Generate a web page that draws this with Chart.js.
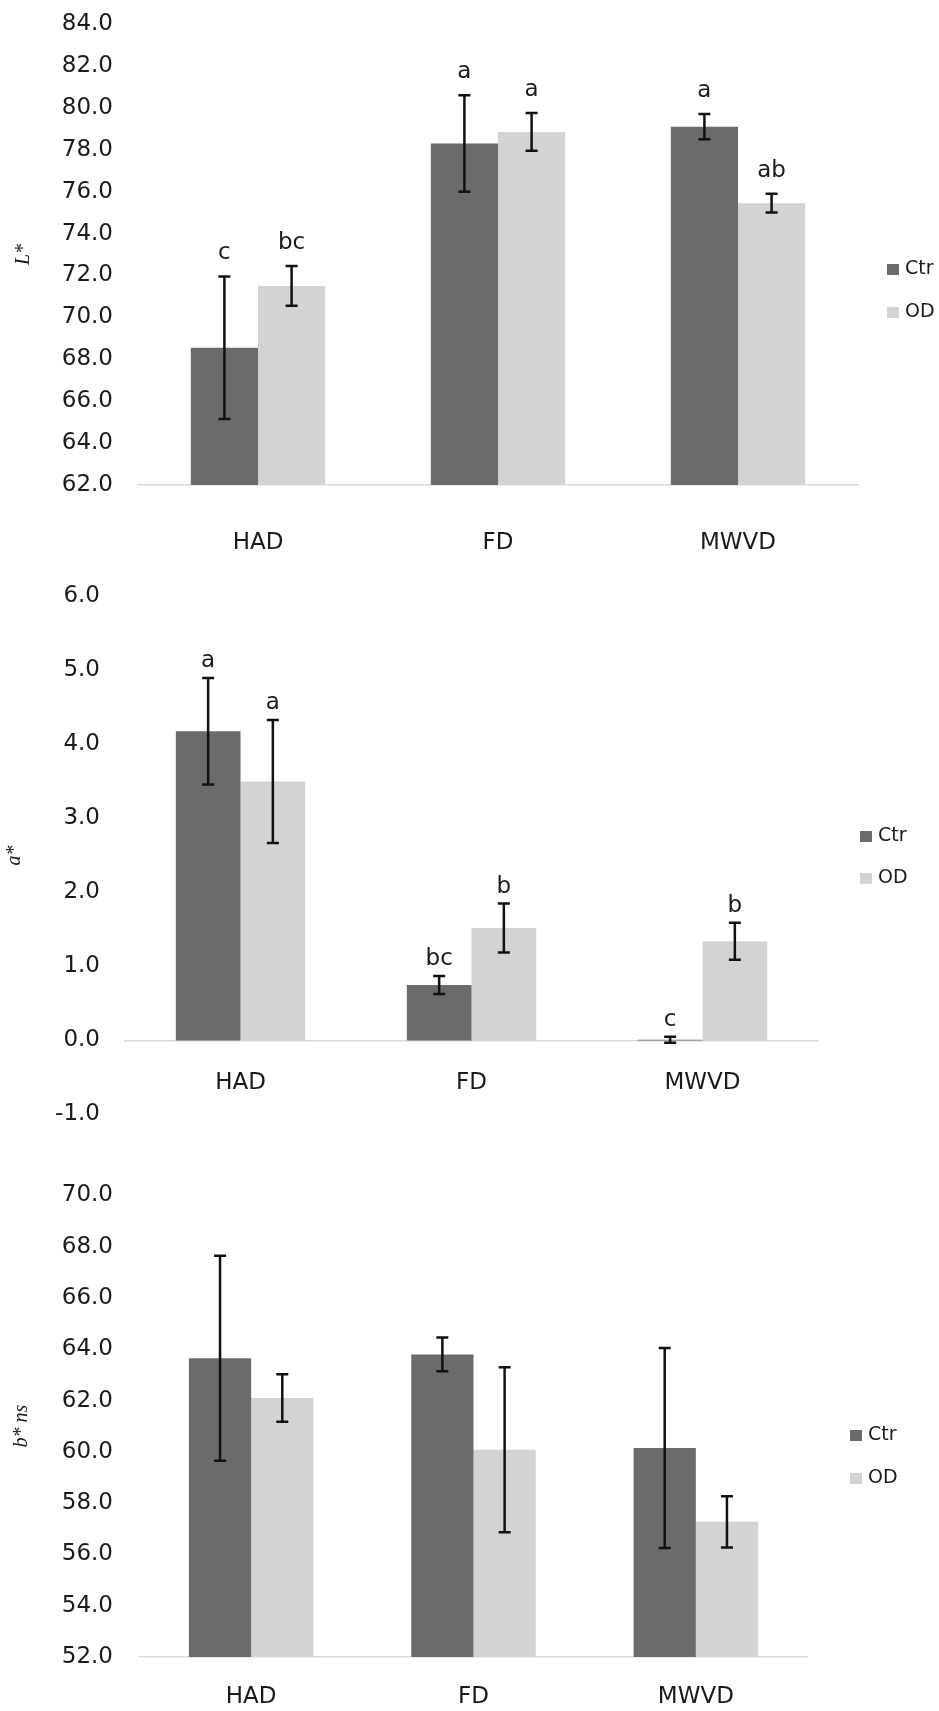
<!DOCTYPE html>
<html>
<head>
<meta charset="utf-8">
<script src="https://cdn.jsdelivr.net/npm/chart.js@4.4.1/dist/chart.umd.min.js"></script>
<style>
    body { margin: 0; background: #fff; width: 939px; height: 1711px; position: relative; overflow: hidden; font-family: 'DejaVu Sans', sans-serif; }
    canvas { position: absolute; left: 0; }
    .item-legenda { position: absolute; font-size: 19px; line-height: 20px; color: #1a1a1a; white-space: nowrap; }
    .item-legenda span { display: inline-block; width: 12px; height: 11px; margin-right: 6px; vertical-align: -1px; }
</style>
</head>
<body>
<canvas id="graficoL" width="939" height="570" style="top:0px"></canvas>
<canvas id="graficoA" width="939" height="550" style="top:570px"></canvas>
<canvas id="graficoB" width="939" height="591" style="top:1120px"></canvas>

<script>
// Categorias e séries
const categorias = ['HAD', 'FD', 'MWVD'];
const nomesSeries = ['Ctr', 'OD'];
const coresSeries = ['#6b6b6b', '#d3d3d3'];

// L*
const mediasCtrL = [68.55, 78.3, 79.1];
const mediasOdL = [71.5, 78.85, 75.45];
const errosCtrL = [3.4, 2.3, 0.6];
const errosOdL = [0.95, 0.9, 0.45];
const letrasCtrL = ['c', 'a', 'a'];
const letrasOdL = ['bc', 'a', 'ab'];
const eixoL = { min: 62, max: 84, passo: 2 };

// a*
const mediasCtrA = [4.18, 0.75, 0.01];
const mediasOdA = [3.5, 1.52, 1.34];
const errosCtrA = [0.72, 0.12, 0.04];
const errosOdA = [0.83, 0.33, 0.25];
const letrasCtrA = ['a', 'bc', 'c'];
const letrasOdA = ['a', 'b', 'b'];
const eixoA = { min: -1, max: 6, passo: 1 };

// b* (ns)
const mediasCtrB = [63.65, 63.8, 60.15];
const mediasOdB = [62.1, 60.08, 57.27];
const errosCtrB = [4.0, 0.66, 3.9];
const errosOdB = [0.93, 3.22, 1.0];
const eixoB = { min: 52, max: 70, passo: 2 };

Chart.defaults.font.family = "'DejaVu Sans', sans-serif";
Chart.defaults.color = '#1a1a1a';

// Plugin para barras de erro e letras de significância
const barrasErro = {
    id: 'barrasErro',
    afterDatasetsDraw(chart, args, opts) {
        const ctx = chart.ctx;
        const escalaY = chart.scales.y;
        ctx.save();
        chart.data.datasets.forEach((ds, i) => {
            const meta = chart.getDatasetMeta(i);
            meta.data.forEach((barra, j) => {
                const v = ds.data[j];
                const e = ds.erros[j];
                const yTopo = escalaY.getPixelForValue(v + e);
                const yBase = escalaY.getPixelForValue(v - e);
                const x = barra.x;

                ctx.strokeStyle = '#111';
                ctx.lineWidth = 2.5;
                ctx.beginPath();
                ctx.moveTo(x, yTopo);
                ctx.lineTo(x, yBase);
                ctx.moveTo(x - 6, yTopo);
                ctx.lineTo(x + 6, yTopo);
                ctx.moveTo(x - 6, yBase);
                ctx.lineTo(x + 6, yBase);
                ctx.stroke();

                if (ds.letras) {
                    ctx.fillStyle = '#1a1a1a';
                    ctx.font = "23px 'DejaVu Sans'";
                    ctx.textAlign = 'center';
                    ctx.textBaseline = 'middle';
                    ctx.fillText(ds.letras[j], x, yTopo - opts.deslocLetra);
                }
            });
        });
        ctx.restore();
    }
};

// Legenda lateral em HTML
function criarLegenda(esquerda, centros) {
    nomesSeries.forEach((nome, i) => {
        const div = document.createElement('div');
        div.className = 'item-legenda';
        div.style.left = esquerda + 'px';
        div.style.top = (centros[i] - 10) + 'px';
        const quadrado = document.createElement('span');
        quadrado.style.background = coresSeries[i];
        div.appendChild(quadrado);
        div.appendChild(document.createTextNode(nome));
        document.body.appendChild(div);
    });
}

// Função para gerar um painel de barras
function criarPainel(cfg) {
    const ctx = document.getElementById(cfg.id).getContext('2d');
    const datasets = [cfg.ctr, cfg.od].map((serie, i) => ({
        label: nomesSeries[i],
        data: serie.medias,
        erros: serie.erros,
        letras: serie.letras,
        backgroundColor: coresSeries[i],
        borderWidth: 0,
        categoryPercentage: 0.56,
        barPercentage: 1.0
    }));

    return new Chart(ctx, {
        type: 'bar',
        data: { labels: categorias, datasets: datasets },
        plugins: [barrasErro],
        options: {
            responsive: false,
            animation: false,
            layout: { padding: { left: 0, right: cfg.padDir, top: cfg.padTopo, bottom: cfg.padBase } },
            plugins: {
                legend: { display: false },
                tooltip: { enabled: false },
                barrasErro: { deslocLetra: cfg.deslocLetra }
            },
            scales: {
                x: {
                    position: cfg.eixoNoZero ? { y: 0 } : 'bottom',
                    grid: { display: false, drawTicks: false },
                    border: { display: true, color: '#d9d9d9', width: 1.5 },
                    ticks: { padding: cfg.padRotulosX, font: { size: 23 }, color: '#1a1a1a' },
                    afterFit: (escala) => {
                        if (!cfg.eixoNoZero) escala.height = cfg.alturaX;
                    }
                },
                y: {
                    min: cfg.eixo.min,
                    max: cfg.eixo.max,
                    grid: { display: false, drawTicks: false },
                    border: { display: false },
                    ticks: {
                        stepSize: cfg.eixo.passo,
                        padding: cfg.padRotulosY,
                        font: { size: 23 },
                        color: '#1a1a1a',
                        callback: (v) => Number(v).toFixed(1)
                    },
                    title: {
                        display: true,
                        text: cfg.tituloY,
                        color: '#1a1a1a',
                        font: { family: "'Liberation Serif', serif", style: 'italic', size: 20 },
                        padding: { top: cfg.padTitulo, bottom: 0 }
                    },
                    afterFit: (escala) => {
                        // largura fixa e sem folga extra em cima/embaixo
                        escala.width = cfg.larguraY;
                        escala.paddingTop = 0;
                        escala.paddingBottom = 0;
                    }
                }
            }
        }
    });
}

criarPainel({
    id: 'graficoL', tituloY: 'L*', eixo: eixoL,
    ctr: { medias: mediasCtrL, erros: errosCtrL, letras: letrasCtrL },
    od: { medias: mediasOdL, erros: errosOdL, letras: letrasOdL },
    larguraY: 138, padDir: 81, padTopo: 24, padBase: 0, alturaX: 85,
    padRotulosX: 44, padRotulosY: 25, padTitulo: 12, deslocLetra: 23
});

criarPainel({
    id: 'graficoA', tituloY: 'a*', eixo: eixoA, eixoNoZero: true,
    ctr: { medias: mediasCtrA, erros: errosCtrA, letras: letrasCtrA },
    od: { medias: mediasOdA, erros: errosOdA, letras: letrasOdA },
    larguraY: 125, padDir: 121, padTopo: 26.5, padBase: 5.5,
    padRotulosX: 29, padRotulosY: 25, padTitulo: 3, deslocLetra: 17
});

criarPainel({
    id: 'graficoB', tituloY: 'b* ns', eixo: eixoB,
    ctr: { medias: mediasCtrB, erros: errosCtrB },
    od: { medias: mediasOdB, erros: errosOdB },
    larguraY: 140, padDir: 132, padTopo: 75.4, padBase: 0, alturaX: 54,
    padRotulosX: 26, padRotulosY: 27, padTitulo: 10, deslocLetra: 0
});

criarLegenda(887, [267, 310]);
criarLegenda(860, [834, 876]);
criarLegenda(850, [1433, 1476]);
</script>
</body>
</html>
